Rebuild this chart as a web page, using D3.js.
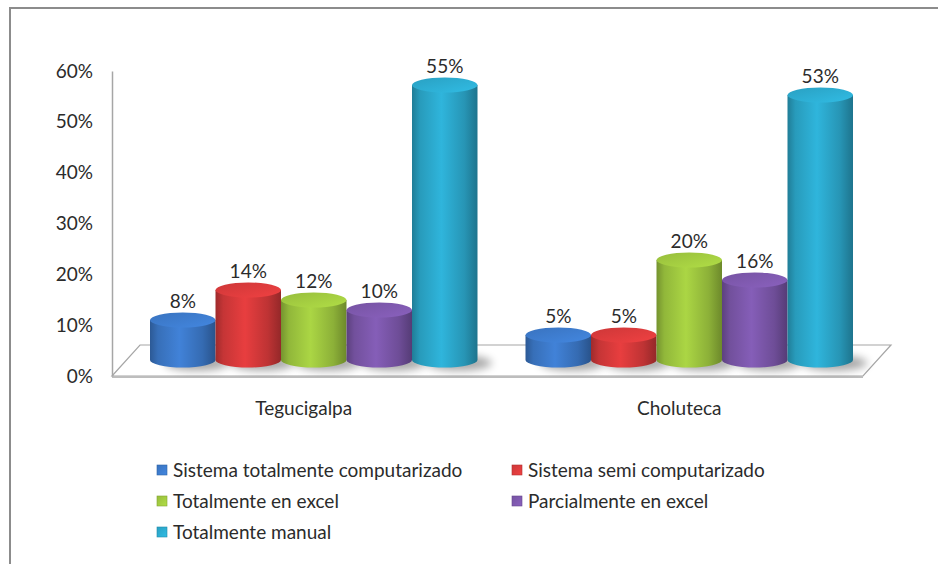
<!DOCTYPE html>
<html>
<head>
<meta charset="utf-8">
<script src="https://cdn.jsdelivr.net/npm/d3@7"></script>
<style>
  body { margin: 0; background: #fff; }
  svg text { font-family: Lato, "Noto Sans", sans-serif; fill: #2b2b2b; }
</style>
</head>
<body>
<div id="chart"></div>
<script>
// data
var categories = ["Tegucigalpa", "Choluteca"];
var series = ["Sistema totalmente computarizado", "Sistema semi computarizado",
              "Totalmente en excel", "Parcialmente en excel", "Totalmente manual"];
var tegucigalpaValues = [0.08, 0.14, 0.12, 0.10, 0.55];
var cholutecaValues = [0.05, 0.05, 0.20, 0.16, 0.53];
var yTicks = [0, 0.1, 0.2, 0.3, 0.4, 0.5, 0.6];
var colors = ["#3b77c6", "#d4393a", "#9cc43e", "#7a56a8", "#2ba6c9"];

function init() {
    var w = 938, h = 564;
    var fsz = "19px";
    var dataset = [];
    categories.forEach(function(c, i) {
        var vals = i === 0 ? tegucigalpaValues : cholutecaValues;
        series.forEach(function(s, j) {
            dataset.push({cat: c, series: s, idx: j, value: vals[j]});
        });
    });

    var svg = d3.select("#chart").append("svg")
        .attr("width", w).attr("height", h);

    var defs = svg.append("defs");
    // horizontal shading so the bars look like cylinders
    colors.forEach(function(col, i) {
        var c = d3.color(col);
        var g = defs.append("linearGradient").attr("id", "body" + i)
            .attr("x1", "0").attr("x2", "1").attr("y1", "0").attr("y2", "0");
        g.append("stop").attr("offset", "0%").attr("stop-color", c.darker(0.8));
        g.append("stop").attr("offset", "12%").attr("stop-color", c.darker(0.2));
        g.append("stop").attr("offset", "45%").attr("stop-color", c.brighter(0.25));
        g.append("stop").attr("offset", "80%").attr("stop-color", c.darker(0.3));
        g.append("stop").attr("offset", "100%").attr("stop-color", c.darker(1));
        var t = defs.append("linearGradient").attr("id", "top" + i)
            .attr("x1", "0").attr("x2", "1").attr("y1", "0").attr("y2", "1");
        t.append("stop").attr("offset", "0%").attr("stop-color", c.darker(0.1));
        t.append("stop").attr("offset", "100%").attr("stop-color", c.brighter(0.35));
    });
    defs.append("filter").attr("id", "blur")
        .attr("x", "-50%").attr("y", "-50%").attr("width", "200%").attr("height", "200%")
        .append("feGaussianBlur").attr("stdDeviation", 4);

    // frame round the whole chart
    svg.append("rect")
        .attr("x", 10).attr("y", 8).attr("width", 940).attr("height", 570)
        .attr("fill", "none").attr("stroke", "#8c8c8c").attr("stroke-width", 2);

    var left = 112, right = 863, floorY = 376;
    var depthX = 28, depthY = -31;

    var yScale = d3.scaleLinear().domain([0, 0.6]).range([376, 71]);
    // bars stand in the middle of the floor depth
    var yBar = d3.scaleLinear().domain([0, 0.6]).range([360, 60]);

    var x0 = d3.scaleBand().domain(categories).range([left, right]);
    var x1 = d3.scaleBand().domain(series).range([24, x0.bandwidth() - 24]);

    // floor slab
    var floor = svg.append("g");
    floor.append("path")
        .attr("d", "M" + left + "," + floorY + "L" + (left + depthX) + "," + (floorY + depthY) +
              "L" + (right + depthX) + "," + (floorY + depthY) + "L" + right + "," + floorY + "Z")
        .attr("fill", "#fff").attr("stroke", "#a6a6a6").attr("stroke-width", 1.2);
    floor.append("rect")
        .attr("x", left).attr("y", floorY).attr("width", right - left).attr("height", 2)
        .attr("fill", "#bdbdbd");

    // y axis
    var yAxis = d3.axisLeft(yScale).tickValues(yTicks).tickFormat(d3.format(".0%")).tickSize(0).tickPadding(19);
    var ya = svg.append("g").attr("transform", "translate(" + left + ",0)").call(yAxis);
    ya.select(".domain").attr("stroke", "#a6a6a6").attr("stroke-width", 1.5);
    ya.selectAll("text").attr("font-size", fsz).attr("fill", "#2b2b2b")
        .style("font-family", "Lato, 'Noto Sans', sans-serif");

    var bw = x1.bandwidth();
    var ry = 7.5;
    var bars = svg.selectAll("g.bar").data(dataset).enter().append("g").attr("class", "bar");

    // shadows on the floor
    bars.append("ellipse")
        .attr("cx", d => x0(d.cat) + depthX / 2 + x1(d.series) + bw * 0.72)
        .attr("cy", d => yBar(0) + 3)
        .attr("rx", bw * 0.5).attr("ry", ry)
        .attr("fill", "#000").attr("opacity", 0.35).attr("filter", "url(#blur)");

    bars.append("path")
        .attr("d", function(d) {
            var x = x0(d.cat) + depthX / 2 + x1(d.series);
            var yb = yBar(0), yt = yBar(d.value), r = bw / 2;
            return "M" + x + "," + yt + "L" + x + "," + yb +
                   "A" + r + "," + ry + " 0 0 0 " + (x + bw) + "," + yb +
                   "L" + (x + bw) + "," + yt + "Z";
        })
        .attr("fill", d => "url(#body" + d.idx + ")");

    bars.append("ellipse")
        .attr("cx", d => x0(d.cat) + depthX / 2 + x1(d.series) + bw / 2)
        .attr("cy", d => yBar(d.value))
        .attr("rx", bw / 2).attr("ry", ry)
        .attr("fill", d => "url(#top" + d.idx + ")");

    bars.append("text")
        .attr("x", d => x0(d.cat) + depthX / 2 + x1(d.series) + bw / 2)
        .attr("y", d => yBar(d.value) - 12)
        .attr("text-anchor", "middle").attr("font-size", fsz)
        .text(d => d3.format(".0%")(d.value));

    // category labels on the front edge
    svg.selectAll("text.cat").data(categories).enter().append("text")
        .attr("class", "cat")
        .attr("x", d => x0(d) + x0.bandwidth() / 2 + 4)
        .attr("y", 415)
        .attr("text-anchor", "middle").attr("font-size", fsz)
        .text(d => d);

    // legend, two columns
    var legend = svg.selectAll("g.legend").data(series).enter().append("g")
        .attr("class", "legend")
        .attr("transform", (d, i) => "translate(" + (i % 2 === 0 ? 157 : 512) + "," + (470 + Math.floor(i / 2) * 31) + ")");
    legend.append("rect")
        .attr("x", 0).attr("y", -5).attr("width", 10).attr("height", 10)
        .attr("fill", (d, i) => "url(#top" + i + ")")
        .attr("stroke", (d, i) => d3.color(colors[i]).darker(0.5)).attr("stroke-width", 0.6);
    legend.append("text")
        .attr("x", 16).attr("y", 7)
        .attr("font-size", fsz)
        .text(d => d);
}

window.onload = init;
</script>
</body>
</html>
